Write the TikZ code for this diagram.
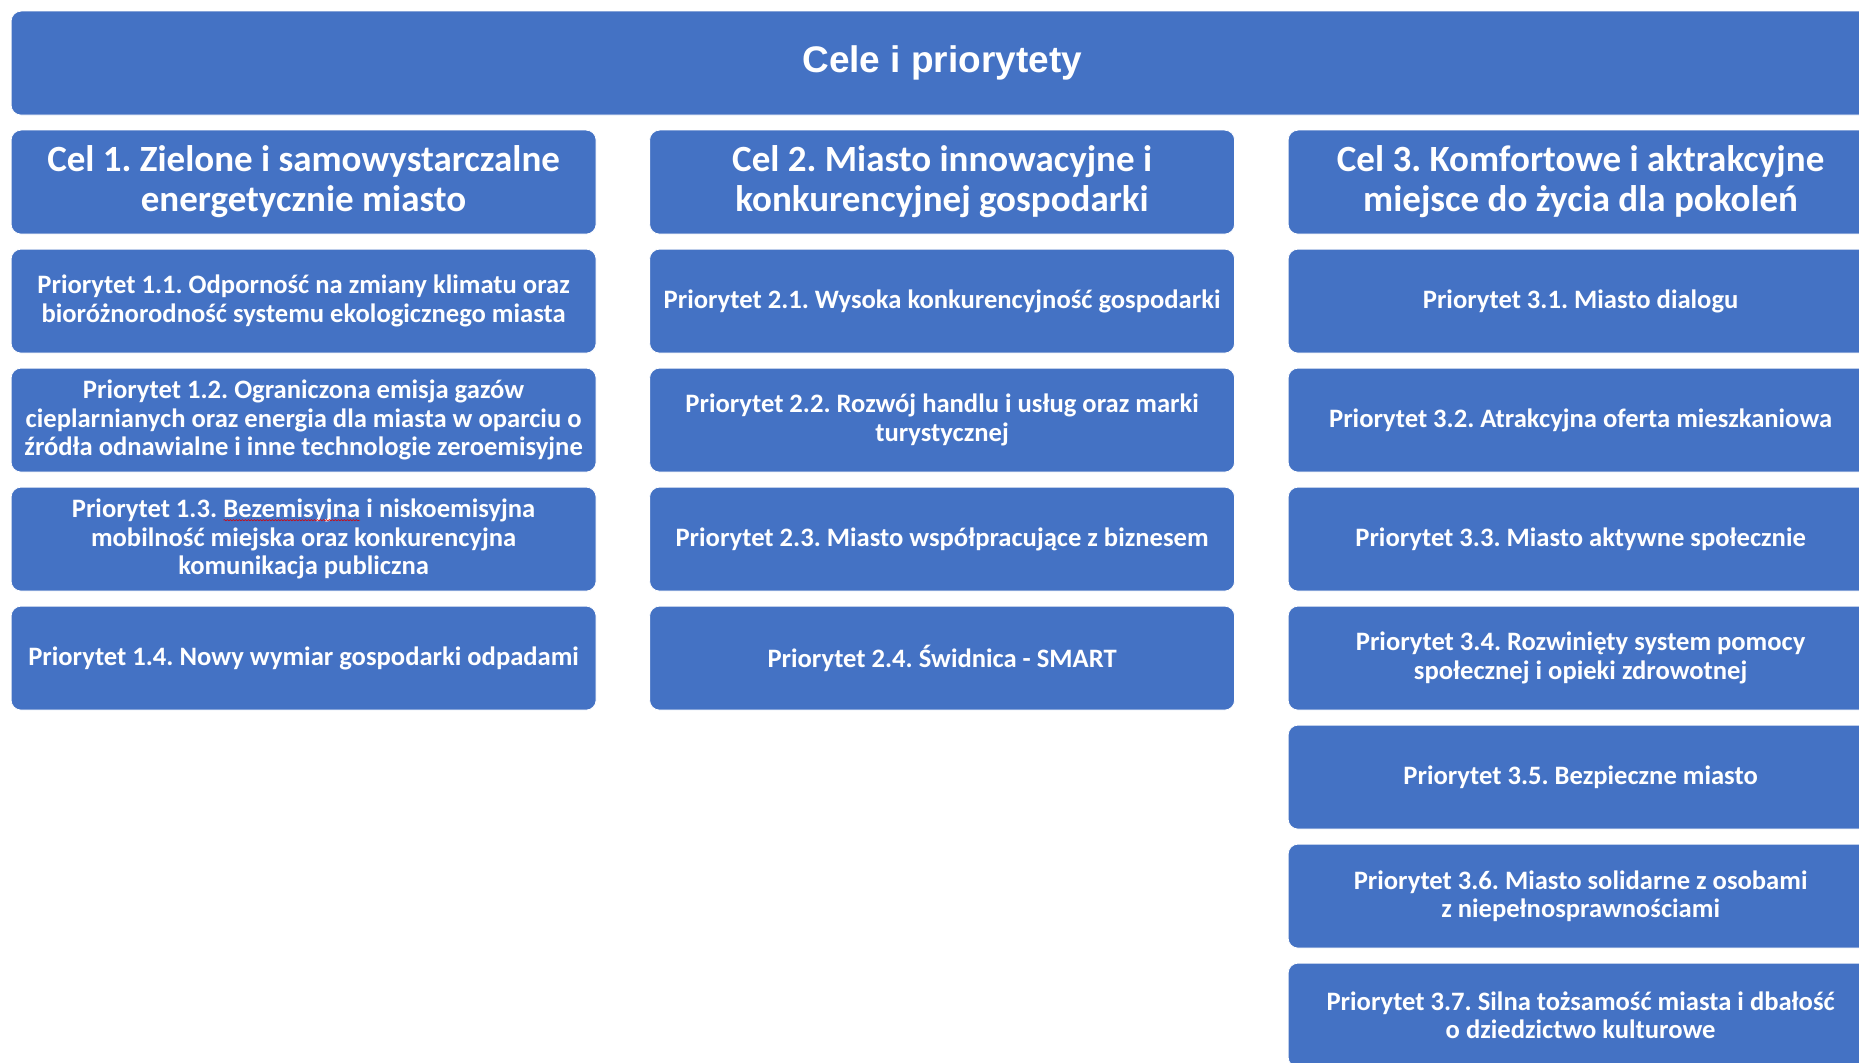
\documentclass[tikz,border=0pt]{standalone}
\usepackage{fontspec}
\setmainfont{Carlito}
\newfontfamily\titlefont{Liberation Sans}
\usetikzlibrary{decorations.pathmorphing}
\definecolor{boxblue}{HTML}{4472C4}
\frenchspacing
\newcommand\spellmark[1]{\tikz[baseline=(sw.base)]{\node[inner sep=0pt,outer sep=0pt,minimum width=0pt,minimum height=0pt,draw=none,fill=none,rounded corners=0pt,anchor=base](sw) at (0,0){#1};\draw[red!85!black,line width=0.6pt,rounded corners=0pt,decorate,decoration={snake,amplitude=0.6pt,segment length=3pt}]([yshift=-2.5pt]sw.base west)--([yshift=-2.5pt]sw.base east);}}
\begin{document}
\begin{tikzpicture}[x=1pt,y=-1pt,
  box/.style={fill=boxblue, draw=white, line width=0.8pt, rounded corners=10pt,
    minimum width=585pt, minimum height=104pt, text=white, align=center,
    inner sep=0pt, anchor=north west, font=\bfseries\fontsize{26.6}{28.5}\selectfont},
  goalbox/.style={box, font=\bfseries\fontsize{37}{40}\selectfont},
  titlebox/.style={box, minimum width=1862pt, font=\titlefont\bfseries\fontsize{37}{42}\selectfont}]
\useasboundingbox (0,0) rectangle (1859,1062);
\clip (0,0) rectangle (1859,1062);
% title banner
\node[titlebox] (title) at (10.7,10.7) {Cele i priorytety};
% column 1
\node[goalbox] (c1) at (10.7,129.7) {Cel 1. Zielone i samowystarczalne\\energetycznie miasto};
\node[box] (p11) at (10.7,248.7) {Priorytet 1.1. Odporność na zmiany klimatu oraz\\bioróżnorodność systemu ekologicznego miasta};
\node[box] (p12) at (10.7,367.7) {Priorytet 1.2. Ograniczona emisja gazów\\cieplarnianych oraz energia dla miasta w oparciu o\\źródła odnawialne i inne technologie zeroemisyjne};
\node[box] (p13) at (10.7,486.7) {Priorytet 1.3. \spellmark{Bezemisyjna} i niskoemisyjna\\mobilność miejska oraz konkurencyjna\\komunikacja publiczna};
\node[box] (p14) at (10.7,605.7) {Priorytet 1.4. Nowy wymiar gospodarki odpadami};
% column 2
\node[goalbox] (c2) at (649.2,129.7) {Cel 2. Miasto innowacyjne i\\konkurencyjnej gospodarki};
\node[box] (p21) at (649.2,248.7) {Priorytet 2.1. Wysoka konkurencyjność gospodarki};
\node[box] (p22) at (649.2,367.7) {Priorytet 2.2. Rozwój handlu i usług oraz marki\\turystycznej};
\node[box] (p23) at (649.2,486.7) {Priorytet 2.3. Miasto współpracujące z biznesem};
\node[box] (p24) at (649.2,605.7) {Priorytet 2.4. Świdnica - SMART};
% column 3
\node[goalbox] (c3) at (1287.7,129.7) {Cel 3. Komfortowe i aktrakcyjne\\miejsce do życia dla pokoleń};
\node[box] (p31) at (1287.7,248.7) {Priorytet 3.1. Miasto dialogu};
\node[box] (p32) at (1287.7,367.7) {Priorytet 3.2. Atrakcyjna oferta mieszkaniowa};
\node[box] (p33) at (1287.7,486.7) {Priorytet 3.3. Miasto aktywne społecznie};
\node[box] (p34) at (1287.7,605.7) {Priorytet 3.4. Rozwinięty system pomocy\\społecznej i opieki zdrowotnej};
\node[box] (p35) at (1287.7,724.7) {Priorytet 3.5. Bezpieczne miasto};
\node[box] (p36) at (1287.7,843.7) {Priorytet 3.6. Miasto solidarne z osobami\\z niepełnosprawnościami};
\node[box] (p37) at (1287.7,962.7) {Priorytet 3.7. Silna tożsamość miasta i dbałość\\o dziedzictwo kulturowe};
\end{tikzpicture}
\end{document}
